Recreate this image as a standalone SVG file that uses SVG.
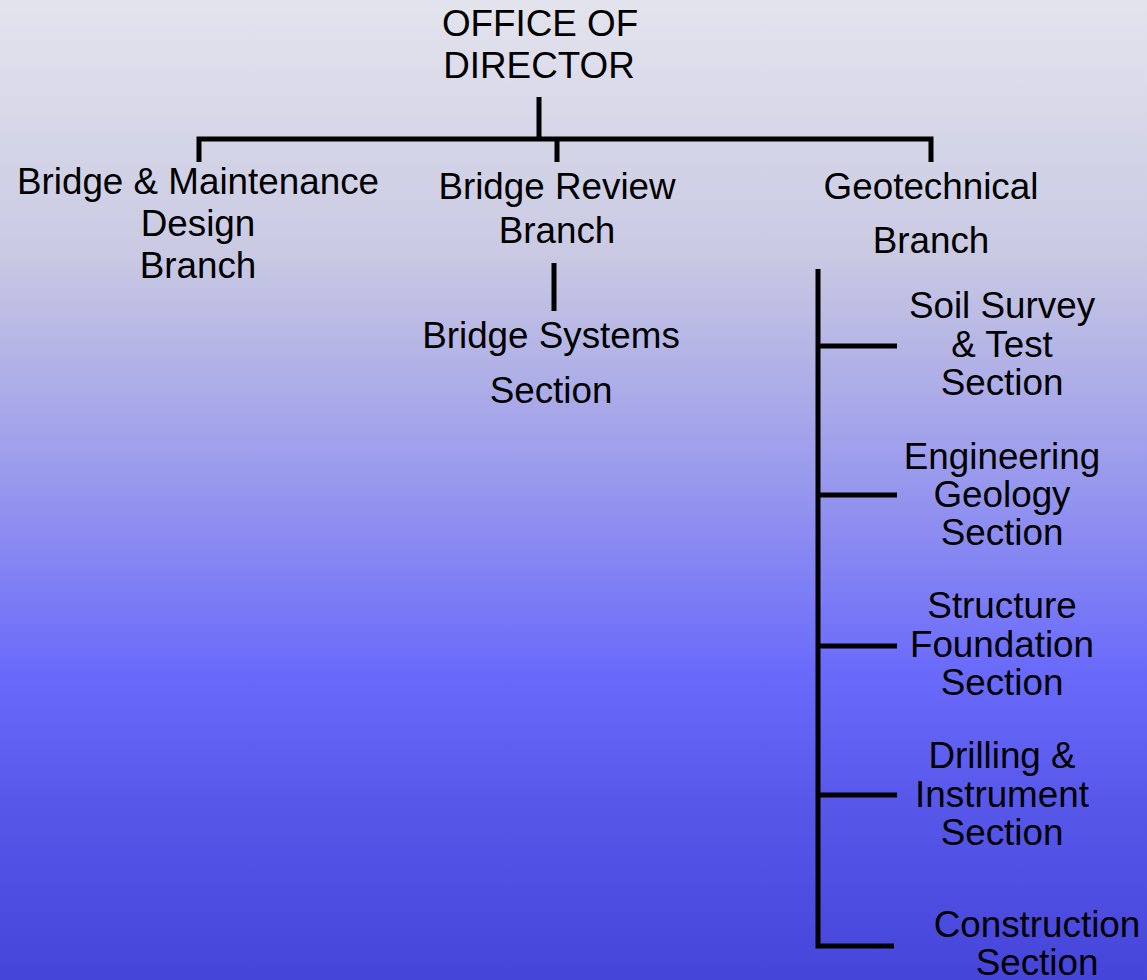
<svg xmlns="http://www.w3.org/2000/svg" width="1147" height="980" viewBox="0 0 1147 980">
<defs>
<linearGradient id="bg" x1="0" y1="0" x2="0" y2="1">
<stop offset="0" stop-color="#e4e4ee"/>
<stop offset="0.26" stop-color="#c9c9e3"/>
<stop offset="0.36" stop-color="#b4b4e6"/>
<stop offset="0.46" stop-color="#9f9fec"/>
<stop offset="0.56" stop-color="#8888f2"/>
<stop offset="0.68" stop-color="#6b6bfb"/>
<stop offset="0.82" stop-color="#5757ea"/>
<stop offset="1" stop-color="#4545da"/>
</linearGradient>
<style>
text{font-family:"Liberation Sans",Arial,sans-serif;font-size:36.8px;fill:#000;text-anchor:middle}
.ln{stroke:#000;stroke-width:5;fill:none}
</style>
</defs>
<rect x="0" y="0" width="1147" height="980" fill="url(#bg)"/>
<g id="connectors">
<line class="ln" x1="539" y1="97" x2="539" y2="139"/>
<polyline class="ln" points="199,162 199,139 931,139 931,162"/>
<line class="ln" x1="557" y1="139" x2="557" y2="162"/>
<line class="ln" x1="554" y1="263" x2="554" y2="311"/>
<polyline class="ln" points="818,269 818,946 894,946"/>
<line class="ln" x1="818" y1="346" x2="897" y2="346"/>
<line class="ln" x1="818" y1="495" x2="897" y2="495"/>
<line class="ln" x1="818" y1="646" x2="897" y2="646"/>
<line class="ln" x1="818" y1="795" x2="897" y2="795"/>
</g>
<g id="director"><text x="540" y="36">OFFICE OF</text><text x="539" y="78">DIRECTOR</text></g>
<g id="bridge-maintenance"><text x="198" y="194">Bridge &amp; Maintenance</text><text x="198" y="236">Design</text><text x="198" y="278">Branch</text></g>
<g id="bridge-review"><text x="557" y="199">Bridge Review</text><text x="557" y="243">Branch</text></g>
<g id="geotechnical"><text x="931" y="199">Geotechnical</text><text x="931" y="253">Branch</text></g>
<g id="bridge-systems"><text x="551" y="348">Bridge Systems</text><text x="551" y="403">Section</text></g>
<g id="soil-survey"><text x="1002" y="318">Soil Survey</text><text x="1002" y="357">&amp; Test</text><text x="1002" y="395">Section</text></g>
<g id="engineering-geology"><text x="1002" y="469">Engineering</text><text x="1002" y="507">Geology</text><text x="1002" y="545">Section</text></g>
<g id="structure-foundation"><text x="1002" y="618">Structure</text><text x="1002" y="657">Foundation</text><text x="1002" y="695">Section</text></g>
<g id="drilling-instrument"><text x="1002" y="768">Drilling &amp;</text><text x="1002" y="807">Instrument</text><text x="1002" y="845">Section</text></g>
<g id="construction"><text x="1037" y="937">Construction</text><text x="1037" y="975">Section</text></g>
</svg>
